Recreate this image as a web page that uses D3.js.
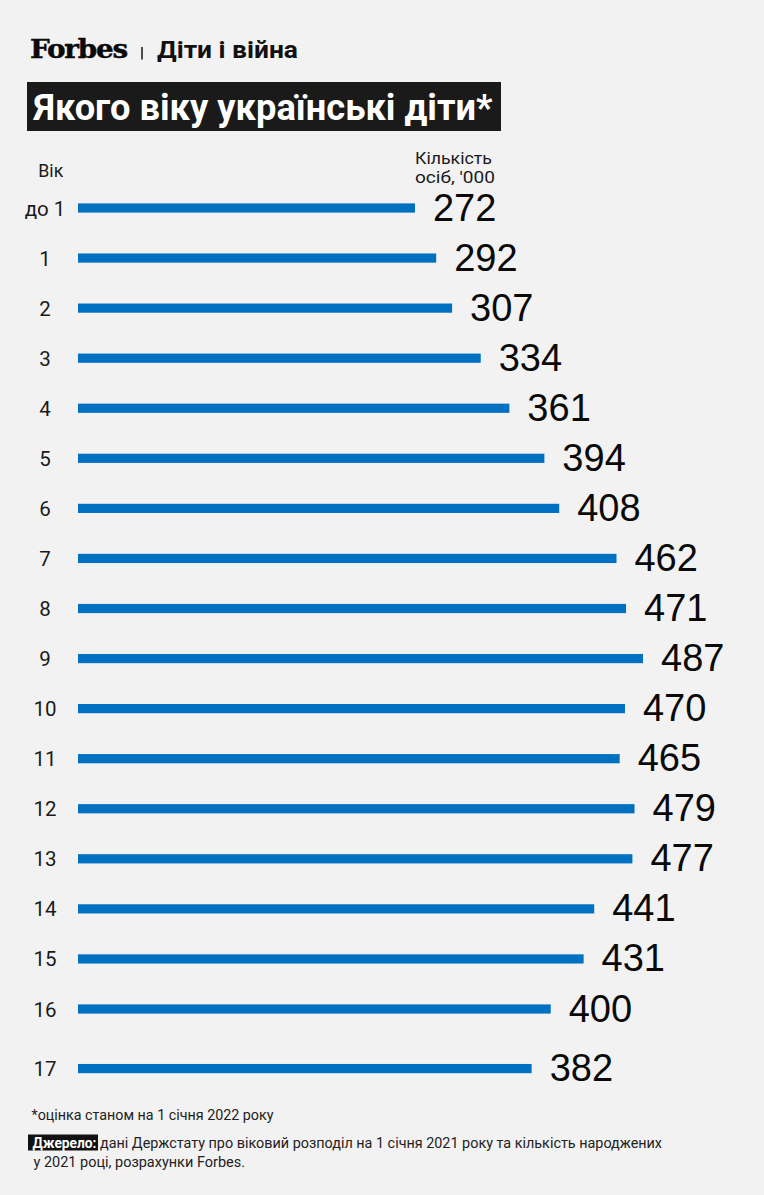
<!DOCTYPE html>
<html>
<head>
<meta charset="utf-8">
<script src="https://cdn.jsdelivr.net/npm/d3@7"></script>
<style>
  html, body { margin: 0; padding: 0; background: #f2f2f2; }
  svg { display: block; }
</style>
</head>
<body>
<div id="chart"></div>
<script>
// ---------------- data ----------------
const ages = ["до 1", "1", "2", "3", "4", "5", "6", "7", "8", "9", "10", "11", "12", "13", "14", "15", "16", "17"];
const counts = [272, 292, 307, 334, 361, 394, 408, 462, 471, 487, 470, 465, 479, 477, 441, 431, 400, 382];

const brand = "Forbes";
const section = "Діти і війна";
const title = "Якого віку українські діти*";
const ageHeader = "Вік";
const valueHeader = ["Кількість", "осіб, '000"];
const note = "*оцінка станом на 1 січня 2022 року";
const sourceLabel = "Джерело:";
const sourceLines = ["дані Держстату про віковий розподіл на 1 січня 2021 року та кількість народжених",
                     "у 2021 році, розрахунки Forbes."];

// ---------------- layout ----------------
const W = 764, H = 1195;
const barLeft = 78;
const barColor = "#0070c0";
const sans = "Roboto, 'Noto Sans', sans-serif";
const numFont = "'Liberation Sans', Arial, sans-serif";

const svg = d3.select("#chart").append("svg")
  .attr("width", W).attr("height", H)
  .attr("viewBox", `0 0 ${W} ${H}`);

svg.append("rect").attr("width", W).attr("height", H).attr("fill", "#f2f2f2");

function fit(sel, width) {
  sel.attr("textLength", width).attr("lengthAdjust", "spacingAndGlyphs");
  return sel;
}

// ---------------- header ----------------
fit(svg.append("text")
  .attr("x", 30).attr("y", 57.5)
  .attr("font-family", "'DejaVu Serif Condensed', 'DejaVu Serif', 'Liberation Serif', serif")
  .attr("font-weight", 700)
  .attr("font-size", 26)
  .attr("letter-spacing", -1)
  .attr("fill", "#0a0a0a")
  .attr("stroke", "#0a0a0a").attr("stroke-width", 0.4)
  .text(brand), 97);

svg.append("line")
  .attr("x1", 142).attr("x2", 142).attr("y1", 47).attr("y2", 59.5)
  .attr("stroke", "#222").attr("stroke-width", 1.6);

fit(svg.append("text")
  .attr("x", 157).attr("y", 57.5)
  .attr("font-family", sans)
  .attr("font-weight", 700)
  .attr("font-size", 23.5)
  .attr("fill", "#111")
  .text(section), 141);

svg.append("rect")
  .attr("x", 27).attr("y", 82).attr("width", 474).attr("height", 49)
  .attr("fill", "#1a1a1a");

fit(svg.append("text")
  .attr("x", 33.5).attr("y", 120)
  .attr("font-family", sans)
  .attr("font-weight", 700)
  .attr("font-size", 36)
  .attr("fill", "#fff")
  .text(title), 459);

// ---------------- scales ----------------
const x = d3.scaleLinear().domain([0, d3.max(counts)]).range([126.5, 643]);

const mainAges = ages.slice(0, ages.length - 1);
const yMain = d3.scalePoint().domain(mainAges).range([208, 1009]);
function y(a) {
  if (a === ages[ages.length - 1]) return yMain(mainAges[mainAges.length - 1]) + yMain.step() * 1.19;
  return yMain(a);
}

const rows = ages.map((a, i) => ({ age: a, value: counts[i] }));

// column headers
fit(svg.append("text")
  .attr("x", 38.3).attr("y", 177.3)
  .attr("font-family", sans).attr("font-size", 18).attr("fill", "#1a1a1a")
  .text(ageHeader), 25);

svg.append("g").selectAll("text")
  .data(valueHeader).join("text")
  .attr("x", 415).attr("y", (d, i) => 164 + i * 19)
  .attr("font-family", sans).attr("font-size", 16.5).attr("fill", "#1a1a1a")
  .text(d => d)
  .each(function (d, i) { fit(d3.select(this), i === 0 ? 77 : 80); });

// ---------------- bars ----------------
const g = svg.append("g");

g.selectAll("rect.bar")
  .data(rows).join("rect")
  .attr("class", "bar")
  .attr("x", barLeft)
  .attr("y", d => y(d.age) - 4.6)
  .attr("width", d => x(d.value) - barLeft)
  .attr("height", 9.2)
  .attr("fill", barColor);

g.selectAll("text.age")
  .data(rows).join("text")
  .attr("class", "age")
  .attr("x", 45)
  .attr("y", d => y(d.age) + 7.5)
  .attr("text-anchor", "middle")
  .attr("font-family", sans)
  .attr("font-size", 20.5)
  .attr("fill", "#1a1a1a")
  .text(d => d.age);

g.selectAll("text.val")
  .data(rows).join("text")
  .attr("class", "val")
  .attr("x", d => x(d.value) + 18)
  .attr("y", d => y(d.age) + 12.5)
  .attr("font-family", numFont)
  .attr("font-size", 38)
  .attr("fill", "#0a0a0a")
  .text(d => d.value);

// ---------------- footer ----------------
fit(svg.append("text")
  .attr("x", 31.5).attr("y", 1120)
  .attr("font-family", sans).attr("font-size", 14.5).attr("fill", "#222")
  .text(note), 242);

svg.append("rect")
  .attr("x", 28).attr("y", 1134.5).attr("width", 70).attr("height", 16)
  .attr("fill", "#111");

fit(svg.append("text")
  .attr("x", 32.5).attr("y", 1148)
  .attr("font-family", sans).attr("font-weight", 700).attr("font-size", 14.5).attr("fill", "#fff")
  .text(sourceLabel), 64);

fit(svg.append("text")
  .attr("x", 100).attr("y", 1148.3)
  .attr("font-family", sans).attr("font-size", 14.5).attr("fill", "#222")
  .text(sourceLines[0]), 562);

fit(svg.append("text")
  .attr("x", 33.5).attr("y", 1166.7)
  .attr("font-family", sans).attr("font-size", 14.5).attr("fill", "#222")
  .text(sourceLines[1]), 211.5);
</script>
</body>
</html>
